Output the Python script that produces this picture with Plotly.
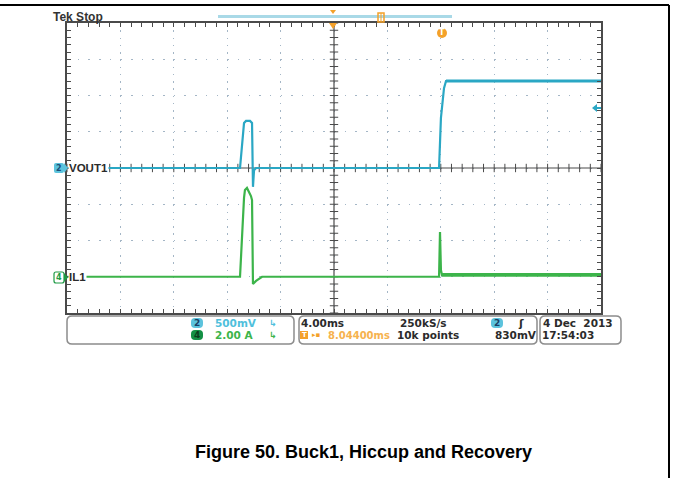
import numpy as np
import plotly.graph_objects as go

# ---------------- data ----------------
# time in ms from the left edge of the screen (4 ms/div, 10 div)
t_vout = [0, 12.96, 13.26, 13.41, 13.71, 13.86, 13.93, 14.01, 14.16,
          27.87, 28.01, 28.24, 28.39, 40]
v_vout = [0, 0, 0.62, 0.65, 0.65, 0.62, -0.26, -0.03, 0,
          0, 0.69, 1.10, 1.20, 1.20]          # volts
t_il = [0, 12.96, 13.26, 13.33, 13.48, 13.63, 13.78, 13.86, 13.93, 14.16, 14.61,
        27.87, 27.94, 28.01, 28.09, 40]
i_il = [0, 0, 4.35, 4.79, 4.90, 4.68, 4.45, 4.23, -0.40, -0.23, 0,
        0, 2.47, 0.37, 0.10, 0.10]            # amps

VOUT_SCALE, VOUT_POS = 0.5, 0.0    # V/div, div offset
IL_SCALE, IL_POS = 2.0, -3.0       # A/div, div offset

info_row1 = ["500mV", "4.00ms", "250kS/s", "4 Dec  2013"]
info_row2 = ["2.00 A", "8.04400ms", "10k points", "830mV", "17:54:03"]
caption = "Figure 50. Buck1, Hiccup and Recovery"

# ---------------- geometry helpers ----------------
W, H = 673, 478
X0, X1, Y0, Y1 = 67, 601, 23, 313


def px(x):
    return (x - X0) / (X1 - X0)


def py(y):
    return (Y1 - y) / (Y1 - Y0)


DARK = "#4a4a4a"
CYAN = "#2aa7c4"
GREEN = "#3cb44a"
ORANGE = "#f4a12a"

fig = go.Figure()

# center cross-hair with minor ticks
hx = np.arange(0, 40.001, 0.8)
fig.add_trace(go.Scatter(x=hx, y=np.zeros_like(hx), mode="lines+markers",
                         line=dict(color=DARK, width=1.2),
                         marker=dict(symbol="line-ns", size=6,
                                     line=dict(color=DARK, width=1)),
                         hoverinfo="skip", showlegend=False))
vy = np.arange(-4, 4.001, 0.2)
fig.add_trace(go.Scatter(x=np.full_like(vy, 20.0), y=vy, mode="lines+markers",
                         line=dict(color=DARK, width=1.2),
                         marker=dict(symbol="line-ew", size=6,
                                     line=dict(color=DARK, width=1)),
                         hoverinfo="skip", showlegend=False))

# traces (converted to divisions)
vout_div = [v / VOUT_SCALE + VOUT_POS for v in v_vout]
il_div = [i / IL_SCALE + IL_POS for i in i_il]

fig.add_trace(go.Scatter(x=t_il, y=il_div, mode="lines",
                         line=dict(color=GREEN, width=2.2),
                         hoverinfo="skip", showlegend=False))
fig.add_trace(go.Scatter(x=t_il[-2:], y=il_div[-2:], mode="lines",
                         line=dict(color=GREEN, width=3.8),
                         hoverinfo="skip", showlegend=False))
fig.add_trace(go.Scatter(x=t_vout, y=vout_div, mode="lines",
                         line=dict(color=CYAN, width=2.2),
                         hoverinfo="skip", showlegend=False))
fig.add_trace(go.Scatter(x=t_vout[-2:], y=vout_div[-2:], mode="lines",
                         line=dict(color=CYAN, width=3.2),
                         hoverinfo="skip", showlegend=False))

GRID = "#a4b6c6"
fig.update_xaxes(range=[0, 40], dtick=4, showgrid=True, gridcolor=GRID,
                 gridwidth=1, griddash="1.5px,5.75px", zeroline=False,
                 showticklabels=False, showline=True, linecolor=DARK,
                 linewidth=1.5, mirror="allticks", ticks="inside", ticklen=4,
                 tickcolor=DARK,
                 minor=dict(dtick=0.8, ticks="inside", ticklen=4,
                            tickcolor=DARK, showgrid=False))
fig.update_yaxes(range=[-4, 4], dtick=1, showgrid=True, gridcolor=GRID,
                 gridwidth=1, griddash="1.5px,9.18px", zeroline=False,
                 showticklabels=False, showline=True, linecolor=DARK,
                 linewidth=1.5, mirror="allticks", ticks="inside", ticklen=4,
                 tickcolor=DARK,
                 minor=dict(dtick=0.2, ticks="inside", ticklen=4,
                            tickcolor=DARK, showgrid=False))

shapes = []
ann = []


def rrect(x0, y0, x1, y1, r):
    pts = [("M", x0 + r, y0), ("L", x1 - r, y0), ("Q", x1, y0, x1, y0 + r),
           ("L", x1, y1 - r), ("Q", x1, y1, x1 - r, y1), ("L", x0 + r, y1),
           ("Q", x0, y1, x0, y1 - r), ("L", x0, y0 + r), ("Q", x0, y0, x0 + r, y0)]
    s = ""
    for p in pts:
        cmd = p[0]
        coords = p[1:]
        cs = []
        for k in range(0, len(coords), 2):
            cs.append(f"{px(coords[k]):.5f},{py(coords[k+1]):.5f}")
        s += cmd + " " + " ".join(cs) + " "
    return s + "Z"


def text(x, y, s, size=10.5, color="#2b2b2b", anchor="left", bold=True,
         family="DejaVu Sans", bg=None):
    d = dict(x=px(x), y=py(y), xref="paper", yref="paper", text=(f"<b>{s}</b>" if bold else s),
             showarrow=False, xanchor=anchor, yanchor="middle",
             font=dict(size=size, color=color, family=family))
    if bg:
        d["bgcolor"] = bg
    d["borderpad"] = 0
    ann.append(d)


# page frame
shapes.append(dict(type="line", xref="paper", yref="paper", x0=px(0), x1=px(669),
                   y0=py(5), y1=py(5), line=dict(color="black", width=2)))
shapes.append(dict(type="line", xref="paper", yref="paper", x0=px(669), x1=px(669),
                   y0=py(5), y1=py(478), line=dict(color="black", width=2)))

# top status bar
text(52, 17, "Tek Stop", size=12, color="#333333", family="Liberation Sans")
shapes.append(dict(type="rect", xref="paper", yref="paper", x0=px(218), x1=px(452),
                   y0=py(18), y1=py(15), fillcolor="#a9d9e7", line=dict(width=0)))
shapes.append(dict(type="path", xref="paper", yref="paper",
                   path=f"M {px(330)},{py(10)} L {px(336)},{py(10)} L {px(333)},{py(14)} Z",
                   fillcolor=ORANGE, line=dict(width=0)))
shapes.append(dict(type="path", xref="paper", yref="paper",
                   path=f"M {px(329)},{py(23)} L {px(337)},{py(23)} L {px(333)},{py(29)} Z",
                   fillcolor=ORANGE, line=dict(width=0)))
shapes.append(dict(type="rect", xref="paper", yref="paper", x0=px(378), x1=px(384),
                   y0=py(22), y1=py(13), line=dict(color=ORANGE, width=1.5)))
shapes.append(dict(type="line", xref="paper", yref="paper", x0=px(381), x1=px(381),
                   y0=py(22), y1=py(13), line=dict(color=ORANGE, width=1)))
shapes.append(dict(type="circle", xref="paper", yref="paper", x0=px(437), x1=px(447),
                   y0=py(38), y1=py(28), fillcolor=ORANGE, line=dict(width=0)))
text(442, 33, "T", size=8, color="white", anchor="center")

# trigger level marker (cyan, right edge)
shapes.append(dict(type="path", xref="paper", yref="paper",
                   path=f"M {px(592)},{py(108)} L {px(597)},{py(104)} L {px(597)},{py(112)} Z",
                   fillcolor=CYAN, line=dict(width=0)))
shapes.append(dict(type="line", xref="paper", yref="paper", x0=px(596), x1=px(601),
                   y0=py(108), y1=py(108), line=dict(color=CYAN, width=2)))

# channel labels on left
shapes.append(dict(type="path", xref="paper", yref="paper",
                   path=rrect(54, 163, 64, 173, 2), fillcolor="#5cc3dd", line=dict(width=0)))
shapes.append(dict(type="path", xref="paper", yref="paper",
                   path=f"M {px(64)},{py(163)} L {px(68)},{py(168)} L {px(64)},{py(173)} Z",
                   fillcolor="#5cc3dd", line=dict(width=0)))
text(59, 168, "2", size=8, color="#1b4e78", anchor="center")
text(68, 168, "VOUT1", size=11.5, color="#2b2b2b", family="Liberation Sans", bg="white")
shapes.append(dict(type="path", xref="paper", yref="paper",
                   path=rrect(54, 272, 64, 283, 2), fillcolor="white",
                   line=dict(color="#1e9a45", width=1.2)))
shapes.append(dict(type="path", xref="paper", yref="paper",
                   path=f"M {px(64)},{py(273)} L {px(68)},{py(277.5)} L {px(64)},{py(282)} Z",
                   fillcolor="#1e9a45", line=dict(width=0)))
text(59, 277.5, "4", size=8, color="#1e9a45", anchor="center")
text(68, 277, "IL1", size=11.5, color="#2b2b2b", family="Liberation Sans", bg="white")

# info boxes
BOXC = "#8c8c8c"
for (a, b) in [(67, 294), (299, 537), (540, 621)]:
    shapes.append(dict(type="path", xref="paper", yref="paper", path=rrect(a, 316, b, 344, 5),
                       line=dict(color=BOXC, width=1.5)))

R1, R2 = 323, 335
shapes.append(dict(type="path", xref="paper", yref="paper", path=rrect(191, 318, 203, 328, 4),
                   fillcolor="#5cc3dd", line=dict(width=0)))
text(197, R1, "2", size=9, color="#1b3f66", anchor="center")
text(214, R1, info_row1[0], color="#4fbfdc")
text(268, R1, "↳", size=9, color="#4fbfdc")
shapes.append(dict(type="path", xref="paper", yref="paper", path=rrect(191, 330, 203, 340, 4),
                   fillcolor="#139045", line=dict(width=0)))
text(197, R2, "4", size=9, color="#0b3d1e", anchor="center")
text(214, R2, info_row2[0], color=GREEN)
text(268, R2, "↳", size=9, color=GREEN)

text(300, R1, info_row1[1])
text(399, R1, info_row1[2])
shapes.append(dict(type="path", xref="paper", yref="paper", path=rrect(491, 318, 503, 328, 4),
                   fillcolor="#5cc3dd", line=dict(width=0)))
text(497, R1, "2", size=9, color="#1b3f66", anchor="center")
text(517, R1, "ʃ", size=11)
shapes.append(dict(type="rect", xref="paper", yref="paper", x0=px(300), x1=px(308),
                   y0=py(339), y1=py(331), fillcolor=ORANGE, line=dict(width=0)))
text(304, R2, "T", size=7, color="white", anchor="center")
text(311, R2, "▸▪", size=7, color=ORANGE)
text(327, R2, info_row2[1], size=10, color="#f6b24e")
text(396, R2, info_row2[2])
text(494, R2, info_row2[3])
text(542, R1, info_row1[3])
text(541, R2, info_row2[4])

# caption
ann.append(dict(x=px(363), y=py(452), xref="paper", yref="paper",
                text=f"<b>{caption}</b>", showarrow=False, xanchor="center",
                yanchor="middle", font=dict(size=18, color="black",
                                            family="Liberation Sans, Arial")))

fig.update_layout(width=W, height=H, margin=dict(l=X0, r=W - X1, t=Y0, b=H - Y1),
                  paper_bgcolor="white", plot_bgcolor="white",
                  shapes=shapes, annotations=ann, showlegend=False)

fig.write_html("out.html", config={"displayModeBar": False},
               post_script="document.body.style.margin='0px';document.body.style.overflow='hidden';")
